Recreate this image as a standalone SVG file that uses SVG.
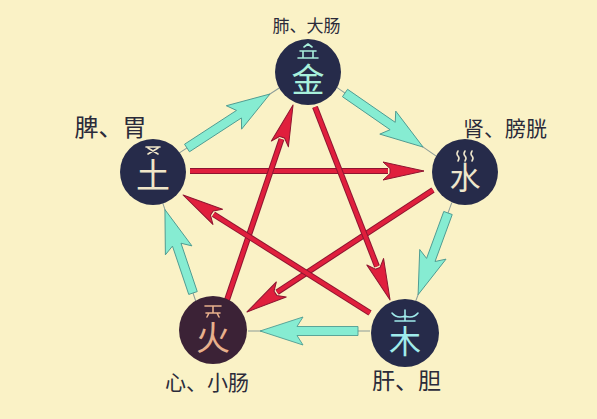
<svg xmlns="http://www.w3.org/2000/svg" width="597" height="419" viewBox="0 0 597 419">
  <defs>
    <marker id="redHead" markerUnits="userSpaceOnUse" viewBox="-8 -12 48 24" refX="0" refY="0" markerWidth="48" markerHeight="24" orient="auto" overflow="visible">
      <path d="M36,0 L-5,-9 L2,-2.5 L2,2.5 L-5,9 Z" fill="#e01f3d" stroke="#8e1530" stroke-width="1" stroke-linejoin="round"/>
    </marker>
  </defs>
  <style>
    .bg { fill: #faf2c6; }
    .node { fill: #262b4a; }
    .fire { fill: #3b2236; }
    .glyph { font-family: "Noto Sans CJK SC", "Noto Sans CJK TC", sans-serif; text-anchor: middle; }
    .label { font-family: "Noto Sans CJK SC", "Noto Sans CJK TC", sans-serif; text-anchor: middle; fill: #2b2b3a; }
    .orn { fill: none; stroke-width: 1.6; stroke-linecap: round; stroke-linejoin: round; }
    .gen { fill: #86ecd2; stroke: #4f9c92; stroke-width: 0.9; stroke-linejoin: round; }
    .thin { stroke: #8c9c98; stroke-width: 1; }
    .rs { stroke: #8e1530; stroke-width: 6; }
    .rf { stroke: #e01f3d; stroke-width: 4; }
  </style>

  <rect class="bg" x="0" y="0" width="597" height="419"/>

  <g id="connectors">
    <!-- generating cycle (cyan) -->
    <g id="gen-tu-jin" transform="translate(187,148) rotate(-33.05)">
      <line class="thin" x1="-10" y1="0" x2="110" y2="0"/>
      <path class="gen" d="M0,-4.5 H62 L56,-14 L99,0 L56,14 L62,4.5 H0 Z"/>
    </g>
    <g id="gen-jin-shui" transform="translate(345,93) rotate(34.7)">
      <line class="thin" x1="-10" y1="0" x2="111" y2="0"/>
      <path class="gen" d="M0,-4.5 H58 L52,-14 L95,0 L52,14 L58,4.5 H0 Z"/>
    </g>
    <g id="gen-shui-mu" transform="translate(448,213) rotate(110.1)">
      <line class="thin" x1="-11" y1="0" x2="94" y2="0"/>
      <path class="gen" d="M0,-4.5 H50 L44,-14 L87,0 L44,14 L50,4.5 H0 Z"/>
    </g>
    <g id="gen-mu-huo" transform="translate(358,331) rotate(180)">
      <line class="thin" x1="-12" y1="0" x2="110" y2="0"/>
      <path class="gen" d="M0,-4.5 H61 L55,-14 L98,0 L55,14 L61,4.5 H0 Z"/>
    </g>
    <g id="gen-huo-tu" transform="translate(193,293) rotate(-108.6)">
      <line class="thin" x1="-9" y1="0" x2="95" y2="0"/>
      <path class="gen" d="M0,-4.5 H51 L45,-14 L88,0 L45,14 L51,4.5 H0 Z"/>
    </g>

    <!-- overcoming cycle (red) -->
    <g id="ctrl-tu-shui">
      <line class="rs" x1="190" y1="171" x2="388" y2="171"/>
      <line class="rf" x1="190" y1="171" x2="388" y2="171" marker-end="url(#redHead)"/>
    </g>
    <g id="ctrl-shui-huo">
      <line class="rs" x1="433" y1="190" x2="277.1" y2="292.2"/>
      <line class="rf" x1="433" y1="190" x2="277.1" y2="292.2" marker-end="url(#redHead)"/>
    </g>
    <g id="ctrl-huo-jin">
      <line class="rs" x1="227" y1="300" x2="281.5" y2="139.1"/>
      <line class="rf" x1="227" y1="300" x2="281.5" y2="139.1" marker-end="url(#redHead)"/>
    </g>
    <g id="ctrl-jin-mu">
      <line class="rs" x1="315" y1="107" x2="377" y2="266.4"/>
      <line class="rf" x1="315" y1="107" x2="377" y2="266.4" marker-end="url(#redHead)"/>
    </g>
    <g id="ctrl-mu-tu">
      <line class="rs" x1="370" y1="313" x2="213.5" y2="214.2"/>
      <line class="rf" x1="370" y1="313" x2="213.5" y2="214.2" marker-end="url(#redHead)"/>
    </g>
  </g>

  <g id="node-jin">
    <circle class="node" cx="308" cy="72" r="33"/>
    <path class="orn" stroke="#a8f0dc" d="M304,47 L308,44 L312,47 M300,51 H316 M303,51 V57 M313,51 V57 M298,58 H318"/>
    <text class="glyph" x="308" y="92" font-size="33" fill="#a8f0dc">金</text>
    <text class="label" x="306.5" y="32" font-size="17">肺、大肠</text>
  </g>

  <g id="node-tu">
    <circle class="node" cx="153" cy="172" r="33"/>
    <path class="orn" stroke="#f0e6c8" d="M146,147 H160 M148,148 L158,154 M158,148 L148,154"/>
    <text class="glyph" x="153" y="188" font-size="34" fill="#f0e6c8">土</text>
    <text class="label" x="110.5" y="136" font-size="24">脾、胃</text>
  </g>

  <g id="node-shui">
    <circle class="node" cx="465" cy="172" r="33"/>
    <path class="orn" stroke="#eee6cc" stroke-width="1.3" d="M458,151 q-2,3 0,5 q2,2 0,5 M465,151 q-2,3 0,5 q2,2 0,5 M472,151 q-2,3 0,5 q2,2 0,5"/>
    <text class="glyph" x="465" y="189" font-size="31" fill="#eee6cc">水</text>
    <text class="label" x="505" y="136" font-size="21">肾、膀胱</text>
  </g>

  <g id="node-huo">
    <circle class="fire" cx="213" cy="330" r="34"/>
    <path class="orn" stroke="#e8b08c" d="M205,306 H221 M213,306 V313 M206,313 H220 M209,313 L207,317 M217,313 L219,317"/>
    <text class="glyph" x="213" y="350" font-size="34" fill="#e8b08c">火</text>
    <text class="label" x="207" y="390" font-size="21">心、小肠</text>
  </g>

  <g id="node-mu">
    <circle class="node" cx="405" cy="333" r="34"/>
    <path class="orn" stroke="#a0ecec" d="M392,313 Q397,319 405,316 Q413,319 418,313 M405,310 V321 M395,321 H415"/>
    <text class="glyph" x="405" y="353" font-size="32" fill="#a0ecec">木</text>
    <text class="label" x="406.5" y="389" font-size="23">肝、胆</text>
  </g>
</svg>
